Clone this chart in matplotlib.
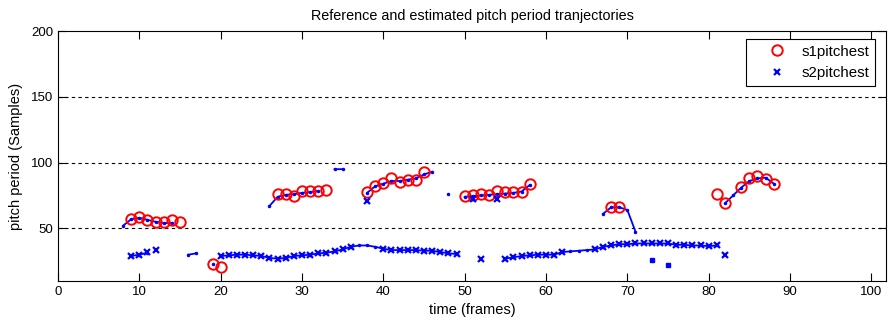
import numpy as np
import matplotlib
matplotlib.use('Agg')
import matplotlib.pyplot as plt

plt.rcParams['font.family'] = ['Liberation Sans', 'DejaVu Sans']

nan = np.nan

# reference s1 trajectory (nan = gap)
s1_ref_frames = [8, 9, 10, 11, 12, 13, 14, 15, 19, 20, 26, 27, 28, 29, 30, 31, 32, 33,
                 34, 35, 36, 38, 39, 40, 41, 42, 43, 44, 45, 46, 47, 48, 49,
                 50, 51, 52, 53, 54, 55, 56, 57, 58, 59, 67, 68, 69, 70, 71, 72,
                 82, 83, 84, 85, 86, 87, 88]
s1_ref_vals = [52, 57, 58, 56.5, 55, 54, 54, nan, 23, nan, 67, 74, 75.5, 76, 77, 77.5, 78.5, nan,
               95, 95, nan, 77, 82, 84, 86, 86, 87, 88, 91, 93, nan, 76, nan,
               74, 74.5, 75, 75.5, 76, 76.5, 77, 78, 83, nan, 61, 66, 66, 64, 47.5, nan,
               69, 75, 81, 86, 88, 88.5, 84]

# reference s2 trajectory
s2_ref_frames = [9, 10, 11, 12, 16, 17, 18,
                 20, 21, 22, 23, 24, 25, 26, 27, 28, 29, 30, 31, 32, 33, 34, 35,
                 36, 37, 38, 39, 40, 41, 42, 43, 44, 45, 46, 47, 48, 49, 50,
                 55, 56, 57, 58, 59, 60, 61, 62, 63, 64, 65, 66, 67, 68, 69, 70,
                 71, 72, 73, 74, 75, 76, 77, 78, 79, 80, 81]
s2_ref_vals = [29, 30, 31.5, nan, 30, 31, nan,
               29, 29.5, 30, 30, 29.5, 29, 27.5, 27, 27.5, 29, 29.5, 30, 31, 31.5, 32.5, 34,
               36, 37, 37, 36, 34.5, 33.5, 33.5, 33.5, 33.5, 33, 33, 32, 31, 30.5, nan,
               27, 28, 29, 29.5, 30, 30, 30, 32, 32.5, 33, 33.5, 34, 36, 37, 38, 38,
               38.5, 38.5, 38.5, 38.5, 38.5, 37.5, 37.5, 37, 37, 36.5, 37]
ref_dot_frames = [73, 75]
ref_dot_vals = [26, 22]

# estimated s1 pitch
s1_est_frames = [9, 10, 11, 12, 13, 14, 15, 19, 20,
                 27, 28, 29, 30, 31, 32, 33,
                 38, 39, 40, 41, 42, 43, 44, 45,
                 50, 51, 52, 53, 54, 55, 56, 57, 58,
                 68, 69, 81, 82, 84, 85, 86, 87, 88]
s1_est_vals = [57.5, 59, 56.5, 55, 54.5, 56, 55, 23, 21,
               76.5, 76, 74.5, 78.5, 78.5, 78.5, 79,
               77.5, 82.5, 84.5, 88, 85.5, 86.5, 87, 92.5,
               74.5, 75.5, 76, 75.5, 78.5, 77.5, 77.5, 77.5, 84,
               66.5, 66.5, 76.5, 69, 81.5, 88, 89.5, 87.5, 84]

# estimated s2 pitch
s2_est_frames = [9, 10, 11, 12,
                 20, 21, 22, 23, 24, 25, 26, 27, 28, 29, 30, 31, 32, 33, 34, 35, 36,
                 38, 40, 41, 42, 43, 44, 45, 46, 47, 48, 49,
                 51, 52, 54,
                 55, 56, 57, 58, 59, 60, 61, 62,
                 66, 67, 68, 69, 70, 71, 72, 73, 74, 75, 76, 77, 78, 79, 80, 81, 82]
s2_est_vals = [29, 30, 32, 33.5,
               29, 29.5, 30, 30, 29.5, 29, 27.5, 27, 27.5, 29, 29.5, 30, 31, 31.5, 32.5, 34, 36,
               71, 34.5, 33.5, 33.5, 33.5, 33.5, 33, 33, 32, 31, 30.5,
               72, 26.5, 72,
               27, 28, 29, 29.5, 30, 30, 30, 32,
               34, 36, 37, 38, 38, 38.5, 38.5, 38.5, 38.5, 38.5, 37.5, 37.5, 37, 37, 36.5, 37.5, 30]

fig = plt.figure(figsize=(8.88, 3.24), dpi=100)
ax = fig.add_axes([58/888, 1 - 281/324, 828/888, 250/324])

# reference lines (drawn first, not in legend)
ax.plot(s1_ref_frames, s1_ref_vals, color='blue', linewidth=1.3, marker='.', markersize=3, zorder=2)
ax.plot(s2_ref_frames, s2_ref_vals, color='blue', linewidth=1.3, marker='.', markersize=3, zorder=2)
ax.plot(ref_dot_frames, ref_dot_vals, color='blue', linestyle='none', marker='s', markersize=2.5, zorder=2)

ax.plot(s1_est_frames, s1_est_vals, linestyle='none', marker='o', markersize=7.5,
        markerfacecolor='none', markeredgecolor='red', markeredgewidth=1.4, label='s1pitchest', zorder=3)
ax.plot(s2_est_frames, s2_est_vals, linestyle='none', marker='x', markersize=4.3,
        color='blue', markeredgewidth=1.6, label='s2pitchest', zorder=3)

# grid at the y ticks
for yv in [50, 100, 150]:
    ax.axhline(yv, color='black', linewidth=0.8, linestyle=(0, (3, 3)), zorder=1)

ax.set_xlim(0, 101.8)
ax.set_ylim(10, 200)
ax.set_xticks(range(0, 101, 10))
ax.set_yticks([50, 100, 150, 200])
ax.tick_params(direction='in', length=6, width=0.8, top=True, right=True, labelsize=9.5)
for s in ax.spines.values():
    s.set_linewidth(0.8)

ax.set_title('Reference and estimated pitch period tranjectories', fontsize=10.4, pad=8)
ax.set_xlabel('time (frames)', fontsize=10.5, labelpad=4)
ax.set_ylabel('pitch period (Samples)', fontsize=10.5, labelpad=6)

leg = ax.legend(loc='upper right', bbox_to_anchor=(0.9867, 0.968), borderaxespad=0,
                numpoints=1, fontsize=10.8, fancybox=False, edgecolor='black', framealpha=1,
                handletextpad=0.0, borderpad=0.38, handlelength=3.3, labelspacing=0.5)
leg.get_frame().set_linewidth(0.8)

fig.savefig('out.png', dpi=100)
